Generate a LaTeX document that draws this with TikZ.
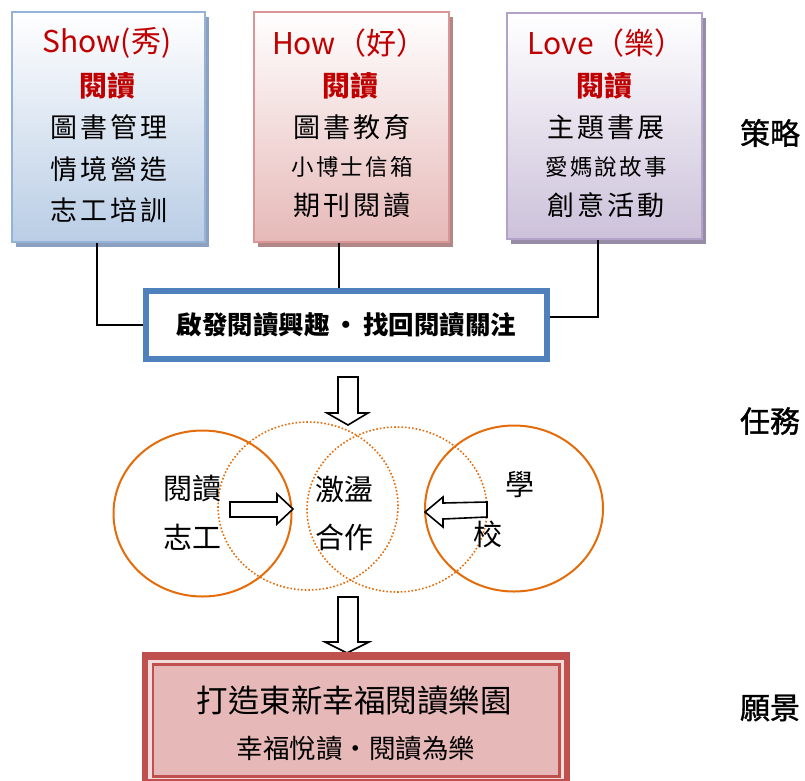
\documentclass[tikz,border=0pt]{standalone}
\usepackage{fontspec}
\setmainfont{Noto Sans CJK TC}
\newfontfamily\cjksp[LetterSpace=10]{Noto Sans CJK TC}
\newfontfamily\sidefont[FakeBold=1.2]{Noto Sans CJK TC}
\usetikzlibrary{shadows,calc,shapes.geometric}
\definecolor{redtxt}{RGB}{192,0,0}
\definecolor{bluebd}{RGB}{149,179,215}
\definecolor{bluebt}{RGB}{185,205,229}
\definecolor{bluesh}{RGB}{140,160,192}
\definecolor{pinkbd}{RGB}{217,150,148}
\definecolor{pinkbt}{RGB}{230,185,184}
\definecolor{pinksh}{RGB}{178,135,135}
\definecolor{purpbd}{RGB}{179,162,199}
\definecolor{purpbt}{RGB}{204,193,218}
\definecolor{purpsh}{RGB}{150,140,168}
\definecolor{goalbd}{RGB}{79,129,189}
\definecolor{orng}{RGB}{228,108,10}
\definecolor{visdark}{RGB}{192,80,77}
\definecolor{vislight}{RGB}{242,220,219}
\definecolor{visfill}{RGB}{230,185,184}
\tikzset{
  stratbox/.style={draw, line width=2.2pt, minimum width=#1, rectangle, inner sep=0pt},
  head/.style={text=redtxt, font=\fontsize{30}{30}\selectfont},
  headb/.style={text=redtxt, font=\bfseries\fontsize{28}{28}\selectfont},
  item/.style={font=\cjksp\fontsize{27}{27}\selectfont},
  itemsm/.style={font=\cjksp\fontsize{22.5}{22.5}\selectfont},
  circtxt/.style={font=\fontsize{29}{29}\selectfont},
  side/.style={font=\sidefont\fontsize{30}{30}\selectfont},
  blockarrow/.style={draw=black, fill=white, line width=1.6pt, line join=miter},
  solidc/.style={draw=orng, line width=2pt},
  dotc/.style={draw=orng, line width=1.6pt, dash pattern=on 1.6pt off 2pt},
}
\begin{document}
\begin{tikzpicture}[x=1pt,y=-1pt]
\useasboundingbox (0,0) rectangle (805,780);
\clip (0,0) rectangle (805,780);
% strategy boxes
\node[stratbox=193pt, minimum height=230pt, draw=bluebd, top color=white, bottom color=bluebt,
  general shadow={shadow xshift=4pt, shadow yshift=-5pt, fill=bluesh}] (show) at (108.5,127) {};
\node[stratbox=195pt, minimum height=230pt, draw=pinkbd, top color=white, bottom color=pinkbt,
  general shadow={shadow xshift=4pt, shadow yshift=-5pt, fill=pinksh}] (how) at (351.5,127) {};
\node[stratbox=195pt, minimum height=226pt, draw=purpbd, top color=white, bottom color=purpbt,
  general shadow={shadow xshift=4pt, shadow yshift=-5pt, fill=purpsh}] (love) at (604.5,126) {};
% box 1 texts
\node[head] (s1) at (107,43) {Show(秀)};
\node[headb] (s2) at (107,86) {閱讀};
\node[item] (s3) at (109,127) {圖書管理};
\node[item] (s4) at (109,169) {情境營造};
\node[item] (s5) at (109,210) {志工培訓};
% box 2 texts
\node[head] (h1) at (349,43) {How（好）};
\node[headb] (h2) at (350,86) {閱讀};
\node[item] (h3) at (352,127) {圖書教育};
\node[itemsm] (h4) at (352,167) {小博士信箱};
\node[item] (h5) at (352,205) {期刊閱讀};
% box 3 texts
\node[head] (l1) at (606,43) {Love（樂）};
\node[headb] (l2) at (604,86) {閱讀};
\node[item] (l3) at (606,127) {主題書展};
\node[itemsm] (l4) at (606,167) {愛媽說故事};
\node[item] (l5) at (606,205) {創意活動};
% goal box
\node[draw=goalbd, line width=6pt, fill=white, minimum width=401pt, minimum height=68pt, inner sep=0pt,
  font=\bfseries\fontsize{25.5}{25.5}\selectfont] (goal) at (346.5,325) {啟發閱讀興趣\,•\,找回閱讀關注};
% connectors
\draw[line width=1.6pt] ([xshift=-11.5pt]show.south) |- (goal.west);
\draw[line width=1.6pt] ([xshift=-12.5pt]how.south) -- ([xshift=-12.5pt]how.south |- goal.north);
\draw[line width=1.6pt] ([xshift=-6.5pt]love.south) |- ([yshift=8pt]goal.east);
% arrow down 1
\draw[blockarrow] (338,377) -- (358,377) -- (358,413) -- (368,413) -- (348,425) -- (327,413) -- (338,413) -- cycle;
% circles
\node[ellipse, minimum width=178pt, minimum height=166pt, solidc, inner sep=0pt] (vol) at (202.5,513.5) {};
\node[ellipse, minimum width=178pt, minimum height=166pt, solidc, inner sep=0pt] (sch) at (514,508.5) {};
\node[ellipse, minimum width=180pt, minimum height=168pt, dotc, inner sep=0pt] (dl) at (308,506) {};
\node[ellipse, minimum width=180pt, minimum height=165pt, dotc, inner sep=0pt] (dr) at (397,509.5) {};
% circle texts
\node[circtxt] (v1) at (192,489) {閱讀};
\node[circtxt] (v2) at (192,537) {志工};
\node[circtxt] (c1) at (344,489) {激盪};
\node[circtxt] (c2) at (344,537) {合作};
\node[circtxt] (x1) at (520,485) {學};
\node[circtxt] (x2) at (488,534) {校};
% side arrows
\draw[blockarrow] (230,502) -- (277,502) -- (277,494) -- (293,509) -- (277,524) -- (277,517) -- (230,517) -- cycle;
\draw[blockarrow] (487,502) -- (443,503) -- (443,497) -- (425,512) -- (443,527) -- (443,519) -- (487,517) -- cycle;
% arrow down 2
\draw[blockarrow] (338,597) -- (358,597) -- (358,642) -- (369,642) -- (347,653) -- (325,642) -- (338,642) -- cycle;
% vision box
\fill[visdark] (142,652) rectangle (570,800);
\fill[vislight] (148,659.5) rectangle (564,779);
\fill[visdark] (151.5,662.5) rectangle (560.5,777.5);
\node[fill=visfill, minimum width=404pt, minimum height=109.5pt, inner sep=0pt] (vision) at (356,720.25) {};
\node[font=\fontsize{31.5}{31.5}\selectfont] (vt1) at (354,700) {打造東新幸福閱讀樂園};
\node[font=\fontsize{26.5}{26.5}\selectfont] (vt2) at (356,748) {幸福悅讀・閱讀為樂};
% side labels
\node[side] (lab1) at (770,133) {策略};
\node[side] (lab2) at (770,421) {任務};
\node[side] (lab3) at (770,708) {願景};
\end{tikzpicture}
\end{document}
